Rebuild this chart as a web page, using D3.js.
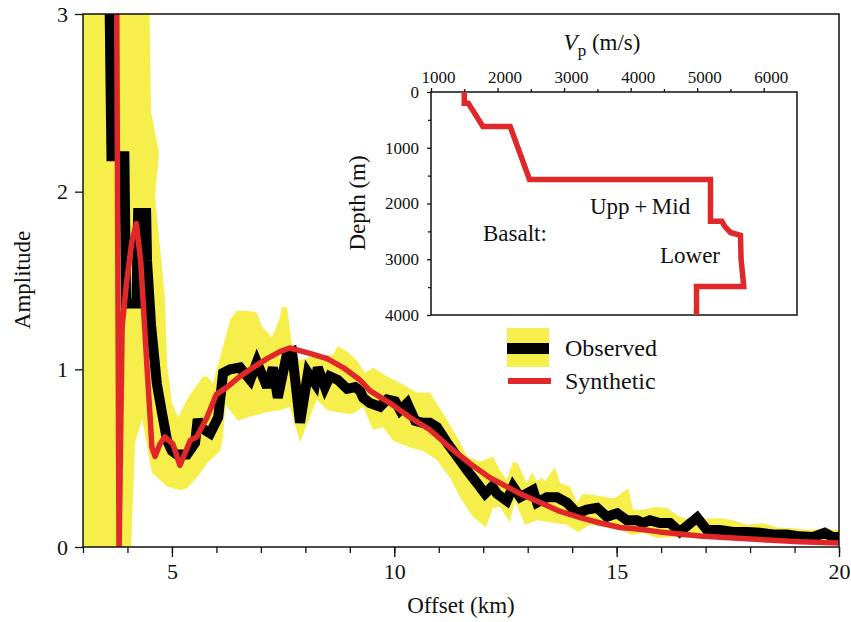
<!DOCTYPE html>
<html>
<head>
<meta charset="utf-8">
<script src="https://cdn.jsdelivr.net/npm/d3@7"></script>
<style>
  body { margin: 0; background: #fff; }
  svg text { font-family: "Liberation Serif", "DejaVu Serif", serif; fill: #111; }
</style>
</head>
<body>
<div id="chart"></div>
<script>
/* Amplitude vs offset, observed band + synthetic, with Vp inset */
const YELLOW = '#f6ef4b', RED = '#e0282a';

// observed amplitude (black)
const obsX = [3.57,3.64,3.93,3.97,4.2,4.24,4.42,4.44,4.53,4.66,4.78,4.89,5.0,5.11,5.34,5.52,5.58,5.63,5.86,6.04,6.15,6.31,6.53,6.76,6.91,7.14,7.27,7.38,7.59,7.70,7.88,8.06,8.22,8.28,8.44,8.55,8.73,8.94,9.12,9.23,9.30,9.45,9.68,9.84,10.02,10.13,10.29,10.47,10.62,10.80,10.96,11.19,11.41,11.64,11.86,12.04,12.20,12.31,12.53,12.67,12.83,13.12,13.21,13.43,13.66,13.88,14.11,14.33,14.56,14.78,15.01,15.23,15.46,15.59,15.75,15.97,16.20,16.42,16.81,17.03,17.32,17.62,17.93,18.22,18.52,18.83,19.12,19.42,19.68,19.86,20.0];
const obsY = [3.6,2.2,2.2,1.37,1.37,1.88,1.88,1.61,1.25,0.92,0.75,0.60,0.54,0.52,0.52,0.585,0.72,0.675,0.64,0.73,0.98,1.00,1.01,0.94,1.04,0.90,1.01,0.84,1.09,1.10,0.70,0.98,0.92,1.01,0.90,0.96,0.94,0.89,0.90,0.88,0.84,0.81,0.79,0.83,0.82,0.77,0.81,0.71,0.70,0.70,0.675,0.585,0.51,0.43,0.36,0.30,0.34,0.30,0.26,0.34,0.28,0.32,0.25,0.28,0.28,0.25,0.19,0.21,0.22,0.17,0.19,0.15,0.15,0.135,0.15,0.135,0.135,0.085,0.165,0.095,0.095,0.085,0.085,0.08,0.07,0.07,0.06,0.056,0.08,0.056,0.056];

// observed uncertainty band (yellow): upper and lower edges
const bandUpX = [3.0,4.46,4.53,4.71,4.62,4.84,4.89,5.0,5.14,5.36,5.7,5.79,5.92,6.15,6.31,6.46,6.69,6.91,7.02,7.25,7.43,7.47,7.59,7.70,7.88,8.1,8.4,8.62,8.73,8.94,9.16,9.34,9.52,9.84,10.15,10.51,10.8,11.1,11.41,11.64,11.93,12.22,12.38,12.53,12.67,12.78,12.98,13.1,13.21,13.32,13.39,13.61,13.73,13.95,14.11,14.24,14.56,14.78,14.96,15.26,15.37,15.59,15.86,16.13,16.42,16.72,17.03,17.39,17.62,17.93,18.29,18.6,18.97,19.35,19.64,19.91,20.0];
const bandUpY = [3.6,3.6,2.45,2.22,1.97,1.41,1.03,0.81,0.73,0.84,0.96,0.96,0.92,1.13,1.28,1.33,1.33,1.32,1.24,1.18,1.29,1.35,1.35,1.13,1.05,1.07,1.08,1.08,1.13,1.10,1.05,0.98,1.01,0.96,0.92,0.87,0.87,0.75,0.62,0.51,0.48,0.51,0.43,0.38,0.48,0.47,0.36,0.42,0.37,0.39,0.37,0.45,0.36,0.34,0.25,0.30,0.29,0.28,0.275,0.33,0.21,0.21,0.225,0.22,0.17,0.15,0.16,0.16,0.15,0.125,0.135,0.11,0.105,0.095,0.105,0.095,0.095];
const bandLoX = [3.0,4.08,4.17,4.33,4.55,4.89,5.18,5.34,5.56,5.79,6.08,6.15,6.2,6.49,6.71,7.14,7.43,7.65,7.88,8.1,8.26,8.49,8.94,9.07,9.3,9.52,9.75,9.97,10.35,10.65,10.96,11.25,11.48,11.77,12.06,12.22,12.38,12.6,12.71,12.94,13.21,13.5,13.88,14.13,14.4,14.78,15.08,15.37,15.59,15.91,16.27,16.58,17.03,17.62,18.38,19.12,20.0];
const bandLoY = [0,0,0.585,0.72,0.42,0.34,0.32,0.33,0.39,0.47,0.54,0.62,0.8,0.71,0.73,0.76,0.77,0.79,0.59,0.73,0.83,0.77,0.75,0.75,0.79,0.66,0.675,0.6,0.56,0.54,0.49,0.39,0.28,0.17,0.11,0.22,0.225,0.14,0.26,0.125,0.15,0.14,0.125,0.085,0.125,0.11,0.095,0.068,0.08,0.05,0.056,0.05,0.05,0.04,0.034,0.028,0.028];

// synthetic amplitude (red)
const synX = [3.75,3.81,3.88,3.98,4.1,4.2,4.3,4.44,4.51,4.55,4.62,4.73,4.84,5.02,5.18,5.33,5.41,5.56,5.79,6.0,6.24,6.53,6.82,7.14,7.43,7.65,8.1,8.49,8.85,9.23,9.45,9.9,10.35,10.8,11.25,11.7,12.15,12.6,12.83,13.28,13.73,14.18,14.63,15.08,15.52,15.97,16.42,16.87,17.62,18.38,19.12,20.0];
const synY = [3.6,-0.05,1.24,1.49,1.72,1.82,1.6,1.01,0.73,0.56,0.51,0.58,0.62,0.58,0.46,0.55,0.6,0.62,0.73,0.86,0.9,0.96,1.01,1.06,1.10,1.12,1.09,1.06,1.01,0.94,0.88,0.81,0.73,0.66,0.56,0.47,0.39,0.33,0.30,0.25,0.2,0.165,0.135,0.11,0.10,0.085,0.073,0.062,0.05,0.04,0.03,0.022];

// inset velocity model
const vpVals    = [1500,1500,1560,1780,2190,2480,5200,5200,5370,5420,5500,5650,5660,5700,4990,4990];
const depthVals = [0,200,200,620,620,1570,1570,2320,2320,2420,2520,2570,3000,3490,3490,4000];

const xMajor = [5,10,15,20];
const xMinor = d3.range(3,21);
const yMajor = [0,1,2,3];
const vpTicks = [1000,2000,3000,4000,5000,6000];
const vpMinor = [1500,2500,3500,4500,5500];
const dTicks = [0,1000,2000,3000,4000];
const dMinor = [500,1500,2500,3500];

const W = 851, H = 622;
const svg = d3.select('#chart').append('svg').attr('width', W).attr('height', H);

const x = d3.scaleLinear().domain([3,20]).range([83,839]);
const y = d3.scaleLinear().domain([0,3]).range([547,14]);

svg.append('defs').append('clipPath').attr('id','plotclip')
  .append('rect').attr('x',83).attr('y',14).attr('width',756).attr('height',533);

const plot = svg.append('g').attr('clip-path','url(#plotclip)');

// band polygon: upper edge forward, lower edge back
const upPts = bandUpX.map((v,i) => [v, bandUpY[i]]);
const loPts = bandLoX.map((v,i) => [v, bandLoY[i]]).reverse();
const poly = d3.line().x(d => x(d[0])).y(d => y(d[1]));
plot.append('path').attr('d', poly(upPts.concat(loPts)) + 'Z')
  .attr('fill', YELLOW).attr('stroke','none');

plot.append('path').datum(obsX.map((v,i) => [v, obsY[i]]))
  .attr('d', poly).attr('fill','none').attr('stroke','#000')
  .attr('stroke-width',10).attr('stroke-linejoin','miter').attr('stroke-miterlimit',3);

plot.append('path').datum(synX.map((v,i) => [v, synY[i]]))
  .attr('d', poly).attr('fill','none').attr('stroke',RED)
  .attr('stroke-width',5.5).attr('stroke-linejoin','round').attr('stroke-linecap','round');

// frame
svg.append('rect').attr('x',83).attr('y',14).attr('width',756).attr('height',533)
  .attr('fill','none').attr('stroke','#111').attr('stroke-width',1.5);

// axes
const xAxis = svg.append('g').attr('transform','translate(0,547)')
  .call(d3.axisBottom(x).tickValues(xMajor).tickSize(10).tickPadding(6).tickFormat(d3.format('d')));
svg.append('g').attr('transform','translate(0,547)')
  .call(d3.axisBottom(x).tickValues(xMinor).tickSize(6).tickFormat(''));
const yAxis = svg.append('g').attr('transform','translate(83,0)')
  .call(d3.axisLeft(y).tickValues(yMajor).tickSize(8).tickPadding(7).tickFormat(d3.format('d')));
svg.selectAll('.domain').remove();
svg.selectAll('.tick line').attr('stroke','#111').attr('stroke-width',1.3);
xAxis.selectAll('text').attr('font-size',22).attr('fill','#111');
yAxis.selectAll('text').attr('font-size',22).attr('fill','#111');

svg.append('text').attr('x',461).attr('y',613).attr('text-anchor','middle')
  .attr('font-size',23).text('Offset (km)');
svg.append('text').attr('transform','translate(30,280) rotate(-90)').attr('text-anchor','middle')
  .attr('font-size',23).text('Amplitude');

// legend
svg.append('rect').attr('x',507).attr('y',328).attr('width',42).attr('height',39).attr('fill',YELLOW);
svg.append('rect').attr('x',507).attr('y',343).attr('width',42).attr('height',11).attr('fill','#000');
svg.append('rect').attr('x',508).attr('y',378).attr('width',43).attr('height',6).attr('fill',RED);
svg.append('text').attr('x',565).attr('y',356).attr('font-size',24).text('Observed');
svg.append('text').attr('x',565).attr('y',389).attr('font-size',24).text('Synthetic');

// inset
const vx = d3.scaleLinear().domain([1000,6500]).range([431,797]);
const vy = d3.scaleLinear().domain([0,4000]).range([92,315]);
const inset = svg.append('g');
inset.append('rect').attr('x',431).attr('y',92).attr('width',366).attr('height',223)
  .attr('fill','#fff').attr('stroke','#111').attr('stroke-width',1.5);
inset.append('path').datum(vpVals.map((v,i) => [v, depthVals[i]]))
  .attr('d', d3.line().x(d => vx(d[0])).y(d => vy(d[1])))
  .attr('fill','none').attr('stroke',RED).attr('stroke-width',5.5).attr('stroke-linejoin','miter');

const vxAx = inset.append('g').attr('transform','translate(0,92)')
  .call(d3.axisTop(vx).tickValues(vpTicks).tickSize(4).tickPadding(5).tickFormat(d3.format('d')));
inset.append('g').attr('transform','translate(0,92)')
  .call(d3.axisTop(vx).tickValues(vpMinor).tickSize(3).tickFormat(''));
const vyAx = inset.append('g').attr('transform','translate(431,0)')
  .call(d3.axisLeft(vy).tickValues(dTicks).tickSize(4).tickPadding(8).tickFormat(d3.format('d')));
inset.append('g').attr('transform','translate(431,0)')
  .call(d3.axisLeft(vy).tickValues(dMinor).tickSize(3).tickFormat(''));
inset.selectAll('.domain').remove();
inset.selectAll('.tick line').attr('stroke','#111').attr('stroke-width',1.3);
inset.selectAll('.tick text').attr('font-size',17).attr('fill','#111');
// top labels sit a little right of their ticks in the reference
vxAx.selectAll('.tick text').attr('dx', 7);

const vlab = inset.append('text').attr('x',602).attr('y',50).attr('text-anchor','middle').attr('font-size',23);
vlab.append('tspan').attr('font-style','italic').text('V');
vlab.append('tspan').attr('font-size',17).attr('dy',6).text('p');
vlab.append('tspan').attr('dy',-6).text(' (m/s)');
inset.append('text').attr('transform','translate(365,203) rotate(-90)').attr('text-anchor','middle')
  .attr('font-size',23).text('Depth (m)');
inset.append('text').attr('x',590).attr('y',214).attr('font-size',23).text('Upp\u2009+\u2009Mid');
inset.append('text').attr('x',483).attr('y',241).attr('font-size',23).text('Basalt:');
inset.append('text').attr('x',660).attr('y',263).attr('font-size',23).text('Lower');
</script>
</body>
</html>
